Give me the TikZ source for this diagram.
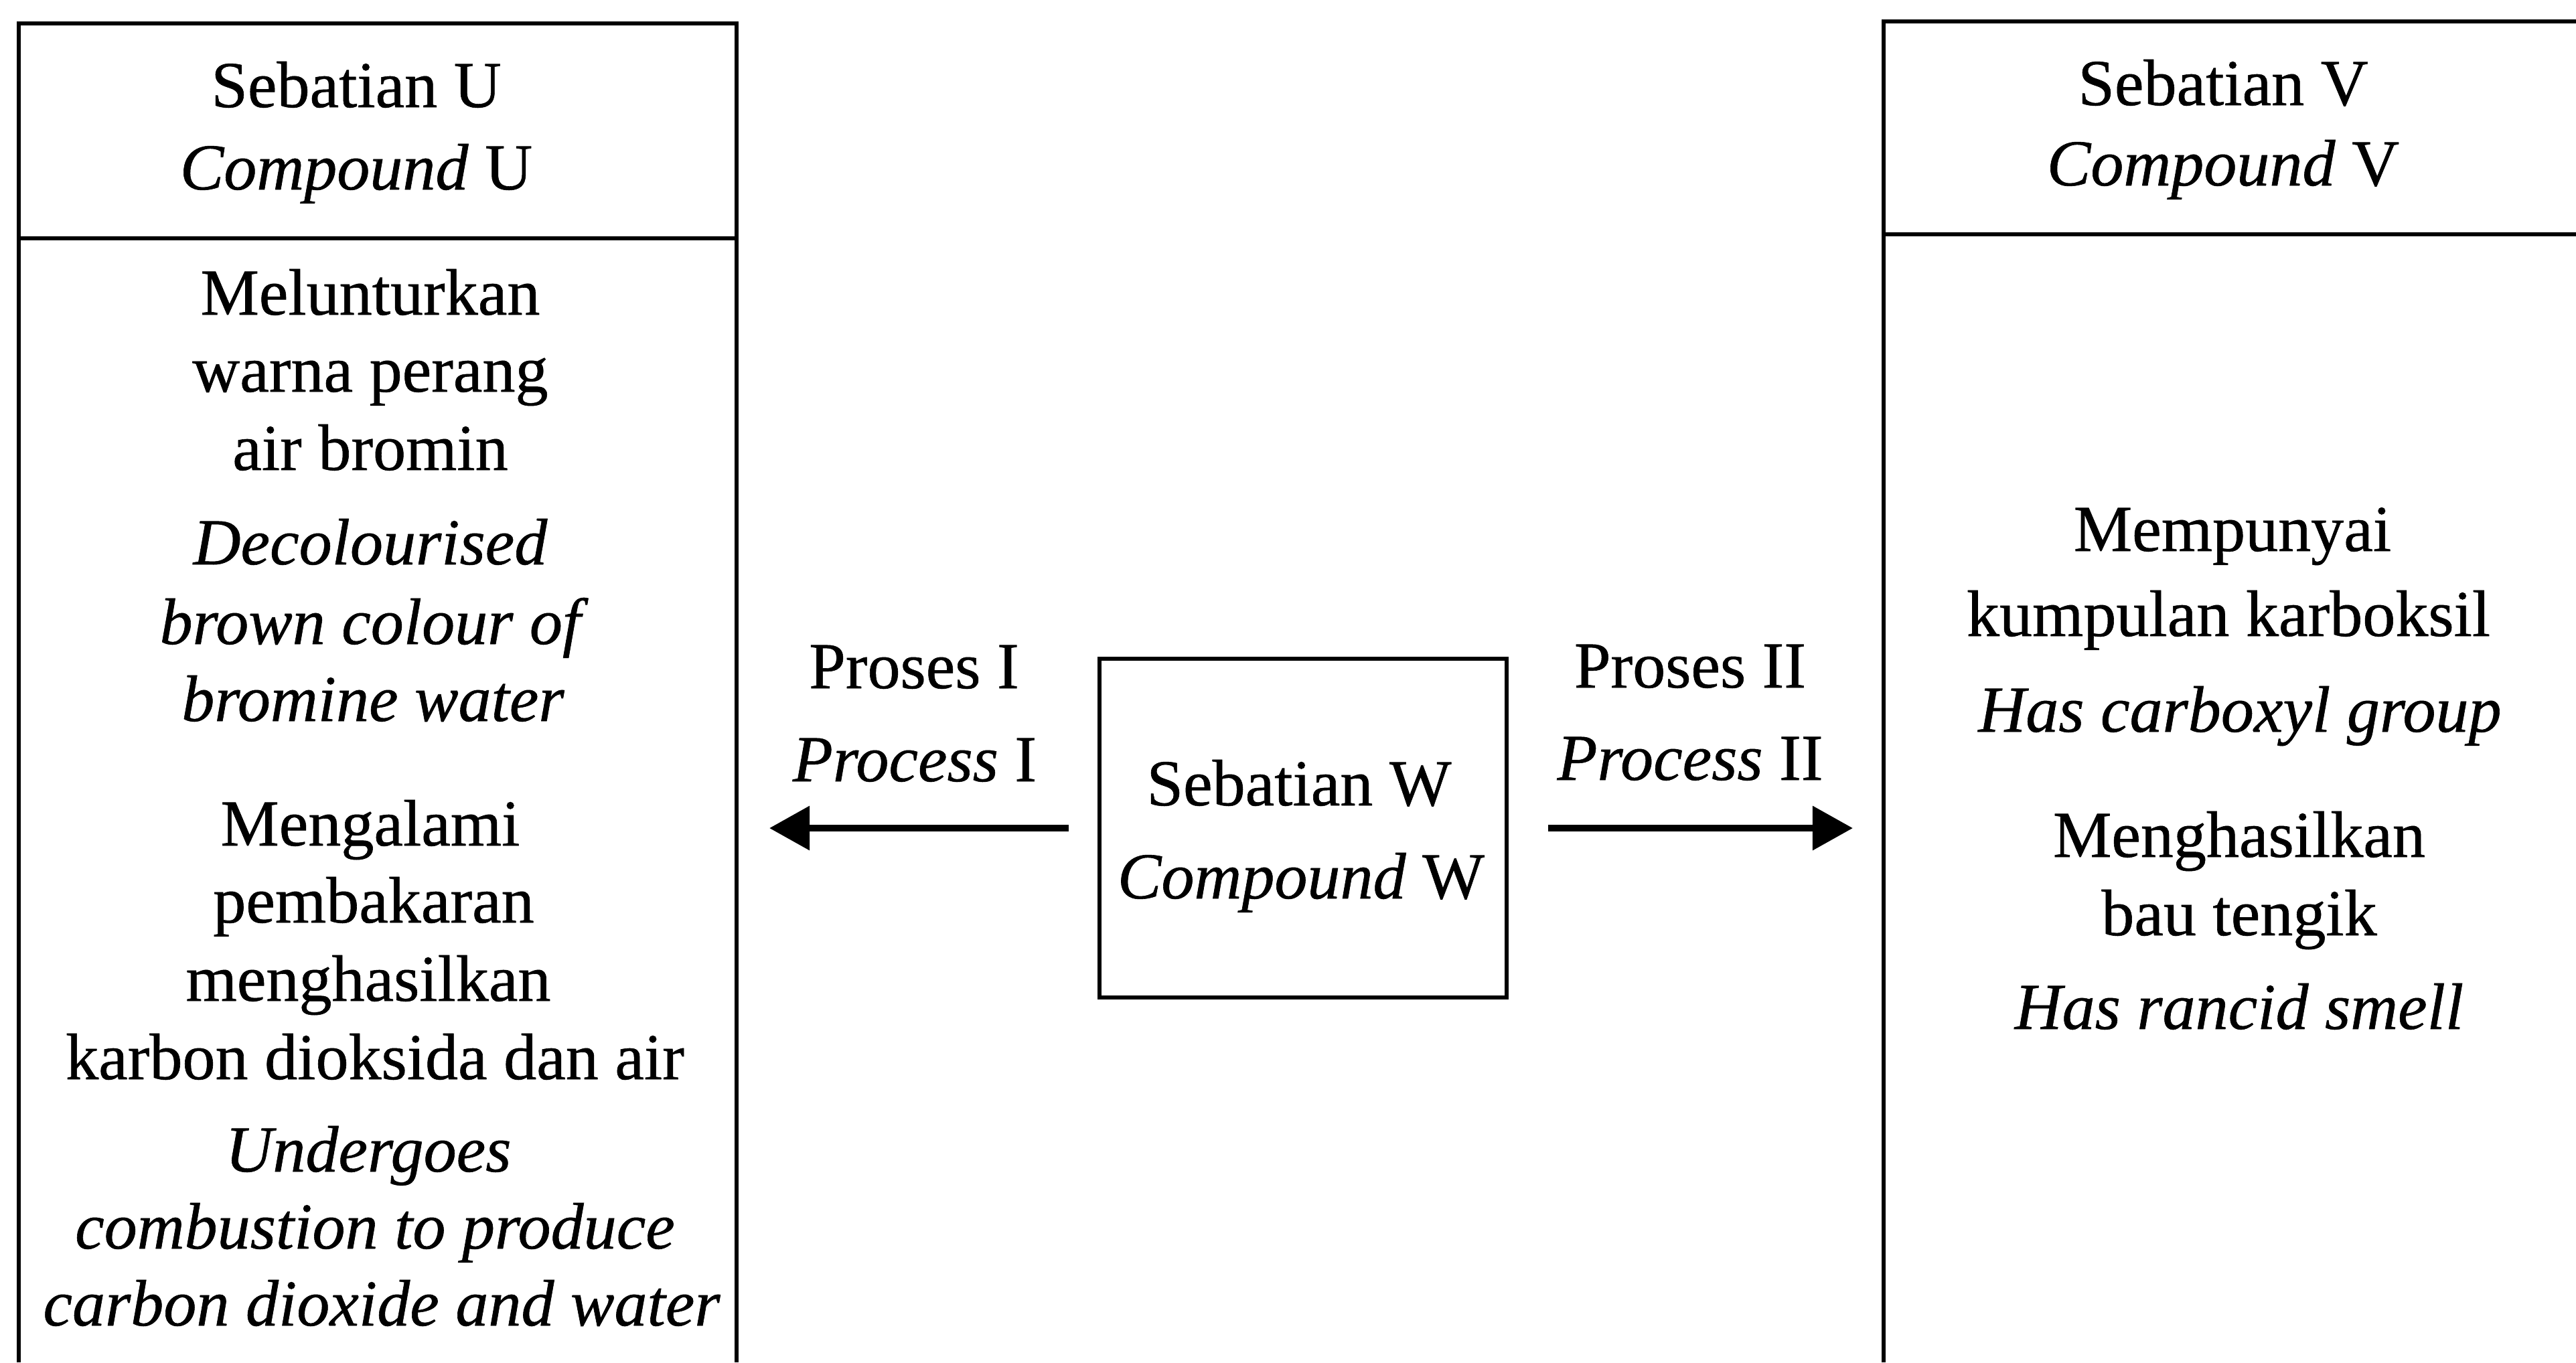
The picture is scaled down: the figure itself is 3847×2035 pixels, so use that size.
\documentclass[tikz,border=0pt]{standalone}
\usepackage{fontspec}
\setmainfont{Liberation Serif}[FakeBold=0.6]
\usetikzlibrary{arrows.meta}
\newcommand\dfs{\fontsize{27.9pt}{33pt}\selectfont}
\begin{document}
\begin{tikzpicture}[x=0.01cm,y=-0.01cm,
  boxline/.style={line width=1.8pt},
  txt/.style={anchor=base, inner sep=0pt, font=\dfs},
  arr/.style={line width=2.85pt, -{Triangle[length=0.6cm,width=0.64cm]}}]
\useasboundingbox (0,0) rectangle (3847,2035);
\fill[white] (0,0) rectangle (3847,2035);
% left box (Compound U)
\draw[boxline] (28,2035) -- (28,35) -- (1100,35) -- (1100,2035);
\draw[boxline] (28,356) -- (1100,356);
% right box (Compound V)
\draw[boxline] (3847,32) -- (2813,32) -- (2813,2035);
\draw[boxline] (2813,350) -- (3847,350);
% centre box (Compound W)
\node[draw, line width=1.8pt, minimum width=6.08cm, minimum height=5.06cm, inner sep=0pt] (W) at (1946,1237) {};
\node[txt] (W1) at (1940,1203) {Sebatian W};
\node[txt] (W2) at (1943,1342) {\textit{Compound} W};
% arrows
\coordinate (tipL) at (1149,1237);
\coordinate (tipR) at (2767,1237);
\draw[arr] ([xshift=-0.43cm]W.west) -- (tipL);
\draw[arr] ([xshift=0.59cm]W.east) -- (tipR);
% process labels
\node[txt] (P1a) at (1365,1028) {Proses I};
\node[txt] (P1b) at (1366,1167) {\textit{Process} I};
\node[txt] (P2a) at (2524,1027) {Proses II};
\node[txt] (P2b) at (2524,1165) {\textit{Process} II};
% left header
\node[txt] (U1) at (532,160) {Sebatian U};
\node[txt] (U2) at (532,283) {\textit{Compound} U};
% left body
\node[txt] (L1) at (553,470) {Melunturkan};
\node[txt] (L2) at (553,585) {warna perang};
\node[txt] (L3) at (553,702) {air bromin};
\node[txt] (L4) at (553,843) {\itshape Decolourised};
\node[txt] (L5) at (553,962) {\itshape brown colour of};
\node[txt] (L6) at (557,1077) {\itshape bromine water};
\node[txt] (L7) at (553,1263) {Mengalami};
\node[txt] (L8) at (558,1378) {pembakaran};
\node[txt] (L9) at (550,1495) {menghasilkan};
\node[txt] (L10) at (560,1612) {karbon dioksida dan air};
\node[txt] (L11) at (550,1750) {\itshape Undergoes};
\node[txt] (L12) at (560,1865) {\itshape combustion to produce};
\node[txt] (L13) at (570,1980) {\itshape carbon dioxide and water};
% right header
\node[txt] (V1) at (3320,157) {Sebatian V};
\node[txt] (V2) at (3320,277) {\textit{Compound} V};
% right body
\node[txt] (R1) at (3334,823) {Mempunyai};
\node[txt] (R2) at (3328,950) {kumpulan karboksil};
\node[txt] (R3) at (3345,1093) {\itshape Has carboxyl group};
\node[txt] (R4) at (3344,1280) {Menghasilkan};
\node[txt] (R5) at (3344,1397) {bau tengik};
\node[txt] (R6) at (3344,1537) {\itshape Has rancid smell};
\end{tikzpicture}
\end{document}
